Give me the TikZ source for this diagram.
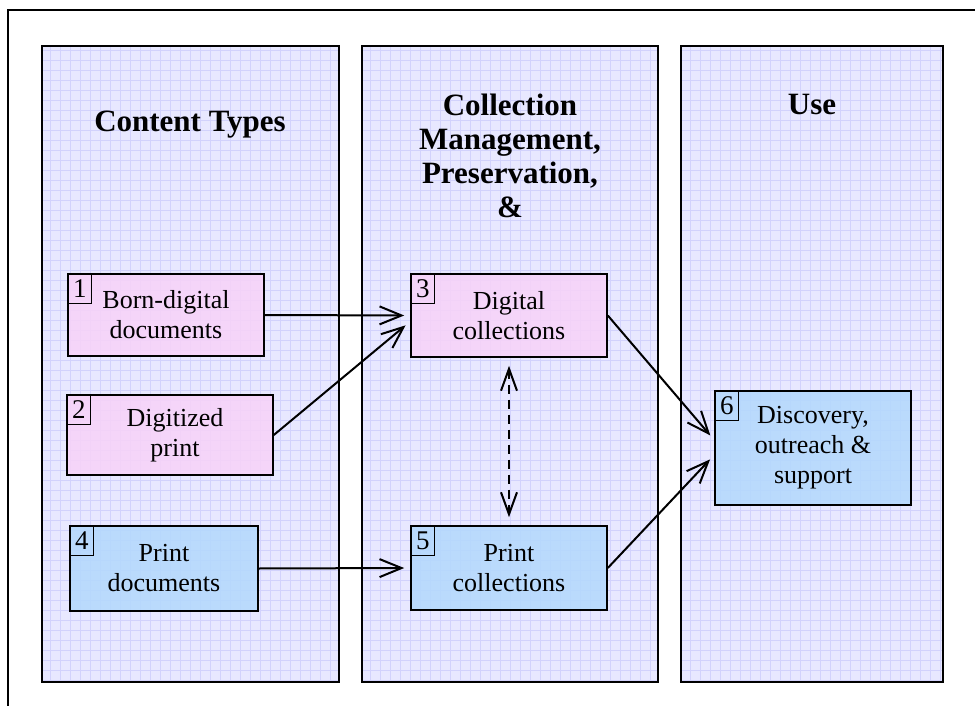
\documentclass[tikz,border=0pt]{standalone}
\usepackage{fontspec}
\setmainfont{Liberation Serif}
\usepackage{xcolor}
\definecolor{panelLilac}{HTML}{E8E8FF}
\definecolor{gridLilac}{HTML}{D2D2FC}
\definecolor{digiPink}{HTML}{F8D2F8}
\definecolor{printBlue}{HTML}{B3D8FC}
\usetikzlibrary{positioning,arrows.meta,calc}

\begin{document}
\begin{tikzpicture}[x=1pt, y=-1pt,
    every node/.style={font=\fontsize{26}{30}\selectfont},
    panel/.style={draw=black, line width=2pt},
    head/.style={font=\fontsize{31}{34}\selectfont\bfseries, align=center},
    docbox/.style={draw=black, line width=1.6pt, fill=digiPink,
                   fill opacity=0.85, text opacity=1, draw opacity=1,
                   align=center, minimum width=196pt, minimum height=82pt,
                   inner sep=0pt},
    printbox/.style={docbox, fill=printBlue},
    numtag/.style={draw=black, line width=1.2pt, anchor=north west,
                   minimum width=24pt, minimum height=30pt, inner sep=0pt,
                   font=\fontsize{27}{27}\selectfont},
    arr/.style={-{Straight Barb[length=22pt,width=18pt]}, line width=2pt,
                shorten >=6pt},
    dbl/.style={{Straight Barb[length=22pt,width=16pt]}-{Straight Barb[length=22pt,width=16pt]},
                line width=2pt, dash pattern=on 9pt off 6pt,
                shorten <=8pt, shorten >=8pt}]
  \useasboundingbox (0,0) rectangle (975,706);
  \draw[line width=2pt] (8,706) -- (8,10) -- (975,10);

  % three columns on squared paper
  \foreach \xa/\xb in {42/339, 362/658, 681/943} {
    \fill[panelLilac] (\xa,46) rectangle (\xb,682);
    \draw[gridLilac, line width=0.6pt, step=10pt] (\xa,46) grid (\xb,682);
    \draw[panel] (\xa,46) rectangle (\xb,682);
  }

  \node[head] (hContent) at (190,125) {Content Types};
  \node[head] (hColl) at (510,156) {Collection\\Management,\\Preservation,\\\&};
  \node[head] (hUse) at (812,105) {Use};

  % content boxes
  \node[docbox] (b1) at (166,315) {Born-digital\\documents};
  \node[docbox, minimum width=206pt, minimum height=80pt] (b2) at (170,435) {\hspace*{10pt}Digitized\\\hspace*{10pt}print};
  \node[docbox, minimum height=83pt] (b3) at (509,315.5) {Digital\\collections};
  \node[printbox, minimum width=188pt, minimum height=85pt] (b4) at (164,568.5) {Print\\documents};
  \node[printbox, minimum height=84pt] (b5) at (509,568) {Print\\collections};
  \node[printbox, minimum height=114pt] (b6) at (813,448) {Discovery,\\outreach \&\\support};

  \node[numtag] (n1) at (b1.north west) {1};
  \node[numtag] (n2) at (b2.north west) {2};
  \node[numtag] (n3) at (b3.north west) {3};
  \node[numtag] (n4) at (b4.north west) {4};
  \node[numtag] (n5) at (b5.north west) {5};
  \node[numtag] (n6) at (b6.north west) {6};

  \draw[arr] (b1.east) -- (b3.west);
  \draw[arr] (b2.east) -- ([yshift=-6pt]b3.west);
  \draw[arr] (b4.east) -- (b5.west);
  \draw[arr] (b3.east) -- ([yshift=8pt]b6.west);
  \draw[arr] (b5.east) -- ([yshift=-7pt]b6.west);
  \draw[dbl] (b3.south) -- (b5.north);
\end{tikzpicture}
\end{document}
